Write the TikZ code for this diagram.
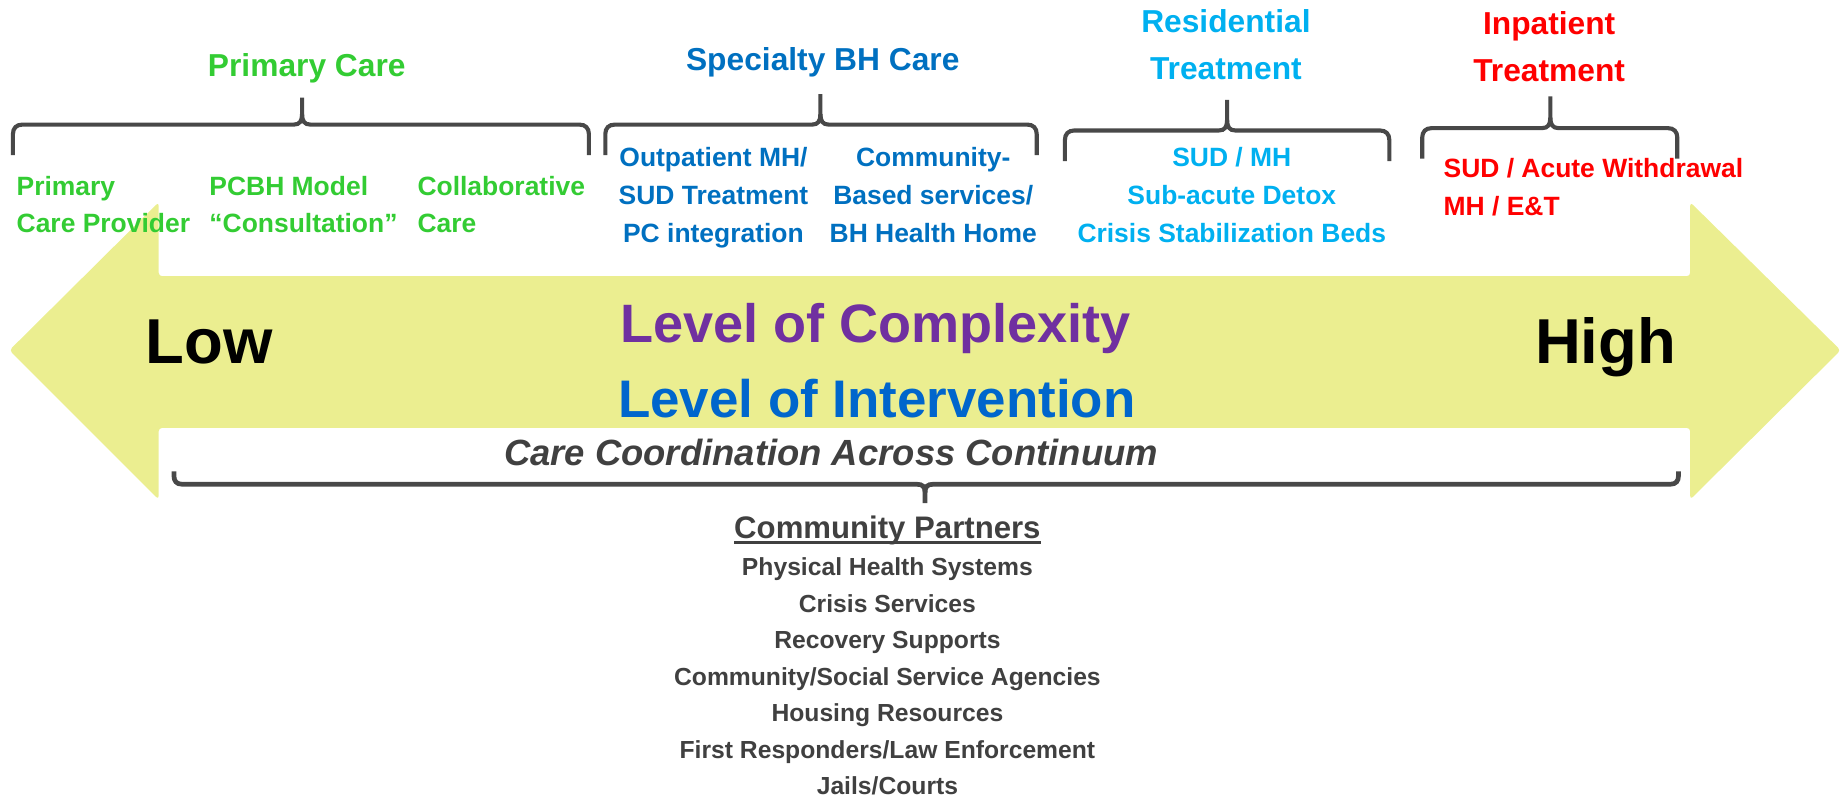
\documentclass[tikz,border=0pt]{standalone}
\usepackage{fontspec}
\setmainfont{Liberation Sans}
\definecolor{pcgreen}{RGB}{51,204,51}
\definecolor{bhblue}{RGB}{0,112,192}
\definecolor{resblue}{RGB}{0,176,240}
\definecolor{inred}{RGB}{255,0,0}
\definecolor{cpurple}{RGB}{112,48,160}
\definecolor{iblue}{RGB}{0,102,204}
\definecolor{dgray}{RGB}{64,64,64}
\definecolor{bracegray}{RGB}{72,72,72}
\definecolor{arrowyellow}{RGB}{235,238,144}
\newcommand\setfs[2]{\fontsize{#1}{#2}\selectfont}
\tikzset{
  bracestyle/.style={draw=bracegray, line width=3.5pt},
  head/.style={inner sep=0pt, anchor=base, align=center, font=\bfseries\setfs{27}{40}},
  subl/.style={inner sep=0pt, anchor=base west, align=left, font=\bfseries\setfs{22.5}{32}},
  subc/.style={inner sep=0pt, anchor=base, align=center, font=\bfseries\setfs{22.5}{32}},
  big/.style={inner sep=0pt, anchor=base, font=\bfseries\setfs{54}{60}},
  level/.style={inner sep=0pt, anchor=base, font=\bfseries\setfs{46}{52}},
  partner/.style={inner sep=0pt, anchor=base, align=center, text=dgray, font=\bfseries\setfs{21}{31}}
}
\newcommand\topbrace[6]{%
  \draw[bracestyle] (#1,#5) -- (#1,{#4+8}) .. controls (#1,{#4+3}) and ({#1+3},#4) .. ({#1+8},#4)
     -- ({#3-7},#4) .. controls ({#3-2},#4) and (#3,{#4-3}) .. (#3,{#4-9}) -- (#3,#6);
  \draw[bracestyle] (#2,#5) -- (#2,{#4+8}) .. controls (#2,{#4+3}) and ({#2-3},#4) .. ({#2-8},#4)
     -- ({#3+7},#4) .. controls ({#3+2},#4) and (#3,{#4-3}) .. (#3,{#4-9});
}
\begin{document}
\begin{tikzpicture}[x=1pt,y=-1pt]
\useasboundingbox (0,0) rectangle (1568,678);
% double arrow
\fill[arrowyellow, rounded corners=3pt] (8,298) -- (135,172) -- (135,235) -- (1438,235) -- (1438,172)
  -- (1566,298) -- (1438,425) -- (1438,364) -- (135,364) -- (135,425) -- cycle;
% top braces
\topbrace{11}{501}{257}{106}{132}{83}
\topbrace{515}{882}{698}{106}{132}{80}
\topbrace{906}{1182}{1044}{111}{137}{85}
\topbrace{1210}{1427}{1319}{109}{135}{82}
% bottom bracket
\draw[bracestyle, line width=4pt] (148,401) -- (148,405) .. controls (148,409) and (150,412) .. (155,412)
  -- (780,412) .. controls (785,412) and (787,414) .. (787,419) -- (787,428);
\draw[bracestyle, line width=4pt] (1428,401) -- (1428,405) .. controls (1428,409) and (1426,412) .. (1421,412)
  -- (794,412) .. controls (789,412) and (787,414) .. (787,419);
% headings (multi-line nodes: base = last line)
\node[head, text=pcgreen] (pc) at (261,65) {Primary Care};
\node[head, text=bhblue] (sbh) at (700,60) {Specialty BH Care};
\node[head, text=resblue] (res) at (1043,68) {Residential\\Treatment};
\node[head, text=inred] (inp) at (1318,69) {Inpatient\\Treatment};
% sub items
\node[subl, text=pcgreen] (pcp) at (14,198) {Primary\\Care Provider};
\node[subl, text=pcgreen] (pcbh) at (178,198) {PCBH Model\\“Consultation”};
\node[subl, text=pcgreen] (collab) at (355,198) {Collaborative\\Care};
\node[subc, text=bhblue] (opmh) at (607,206) {Outpatient MH/\\SUD Treatment\\PC integration};
\node[subc, text=bhblue] (cbs) at (794,206) {Community-\\Based services/\\BH Health Home};
\node[subc, text=resblue] (sudmh) at (1048,206) {SUD / MH\\Sub-acute Detox\\Crisis Stabilization Beds};
\node[subl, text=inred] (acute) at (1228,183) {SUD / Acute Withdrawal\\MH / E\&T};
% arrow texts
\node[big] (low) at (178,309) {Low};
\node[big] (high) at (1366,309) {High};
\node[level, text=cpurple] (cplx) at (745,291) {Level of Complexity};
\node[level, text=iblue, font=\bfseries\setfs{45}{52}] (intv) at (746,355) {Level of Intervention};
\node[inner sep=0pt, anchor=base, text=dgray, font=\bfseries\itshape\setfs{31}{36}] (ccac) at (707,396) {Care Coordination Across Continuum};
% community partners
\node[inner sep=0pt, anchor=base, text=dgray, font=\bfseries\setfs{26.5}{32}] (cp) at (755,458) {Community Partners};
\draw[dgray, line width=2.2pt] ([yshift=-3.5pt]cp.base west) -- ([yshift=-3.5pt]cp.base east);
\node[partner] (plist) at (755,676) {Physical Health Systems\\Crisis Services\\Recovery Supports\\Community/Social Service Agencies\\Housing Resources\\First Responders/Law Enforcement\\Jails/Courts};
\end{tikzpicture}
\end{document}
